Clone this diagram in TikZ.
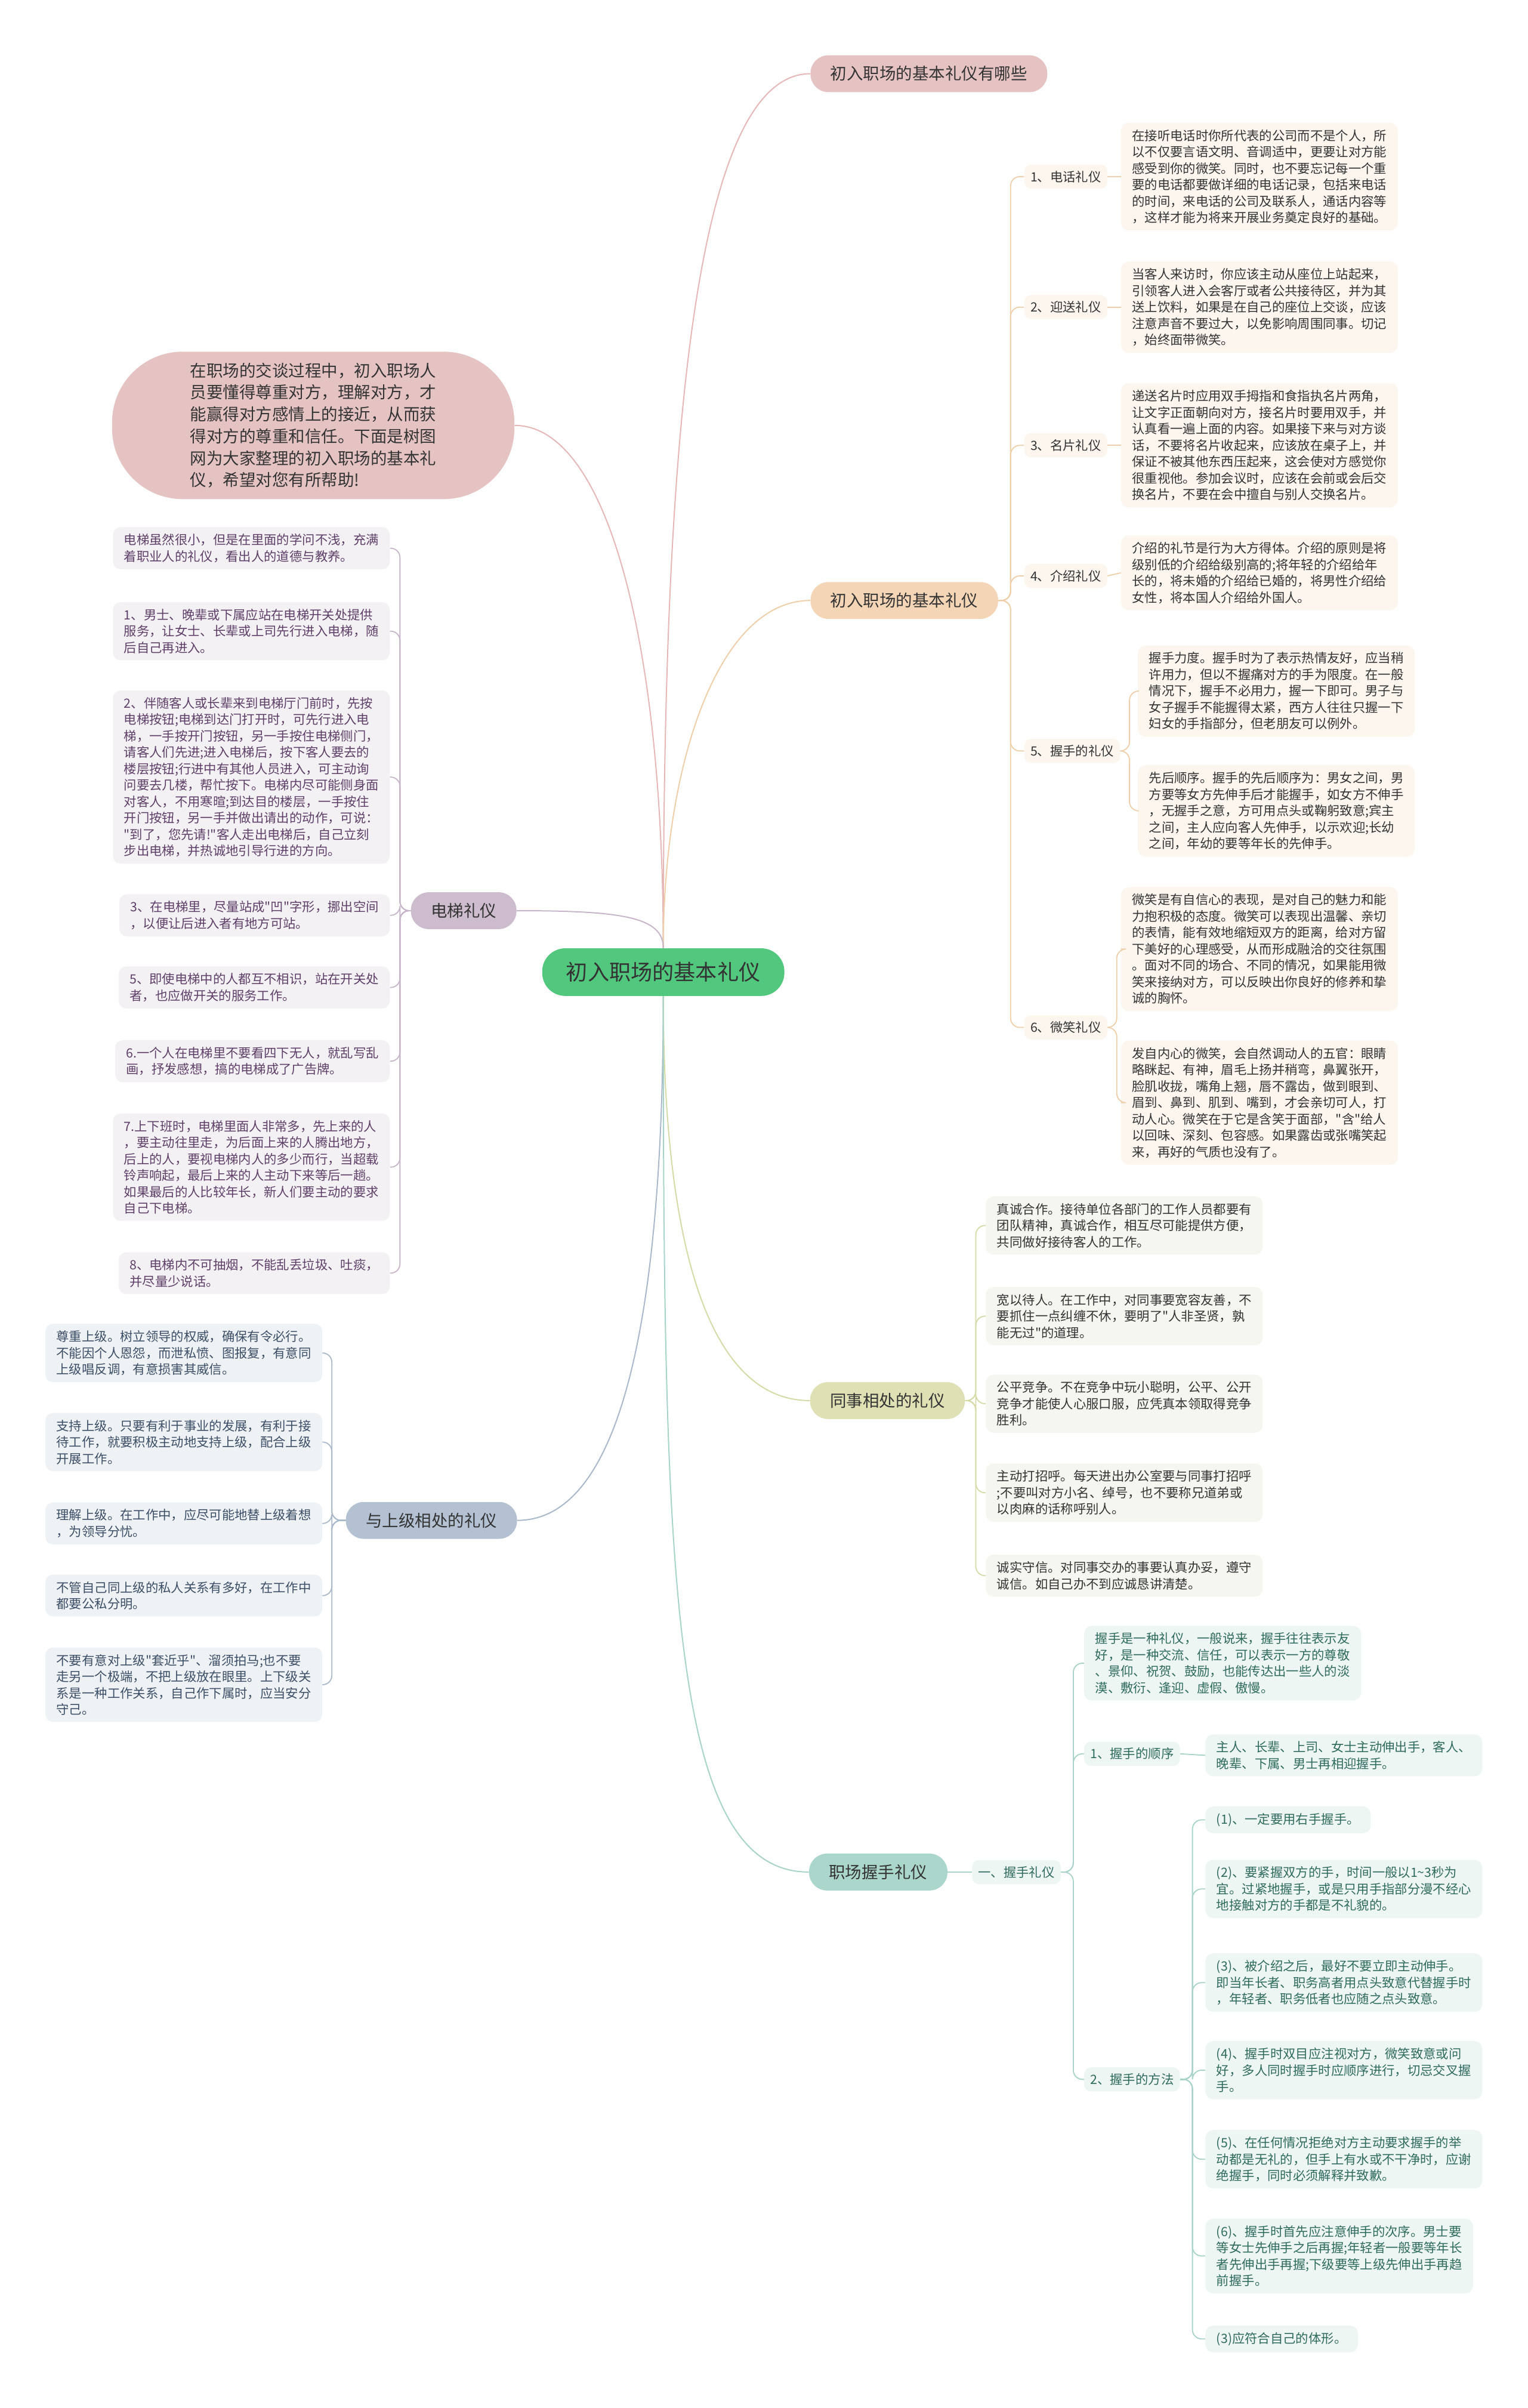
\documentclass[tikz,border=0pt]{standalone}
\usepackage{fontspec}
\setmainfont{Noto Sans CJK SC}[Ligatures=TeXOff]
\usepackage{xcolor}
\usetikzlibrary{positioning}
\definecolor{rootgreen}{HTML}{52C77E}
\definecolor{pinkfill}{HTML}{E6C3C3}
\definecolor{pinkline}{HTML}{E5B7B7}
\definecolor{tanfill}{HTML}{F4D6B6}
\definecolor{tanline}{HTML}{EFCFA9}
\definecolor{tannote}{HTML}{FCF6EF}
\definecolor{lilacfill}{HTML}{CCBCCD}
\definecolor{lilacline}{HTML}{C7B6CA}
\definecolor{lilacnote}{HTML}{F3F1F4}
\definecolor{lilactext}{HTML}{5E3F68}
\definecolor{slatefill}{HTML}{B3C1D2}
\definecolor{slateline}{HTML}{A9B8CA}
\definecolor{slatenote}{HTML}{EFF2F5}
\definecolor{slatetext}{HTML}{3C4E66}
\definecolor{olivefill}{HTML}{DFE1B5}
\definecolor{oliveline}{HTML}{D6DAA6}
\definecolor{olivenote}{HTML}{F6F6F0}
\definecolor{tealfill}{HTML}{AAD6CB}
\definecolor{tealline}{HTML}{A7D3C8}
\definecolor{tealnote}{HTML}{EEF6F4}
\definecolor{tealtext}{HTML}{2F6B5D}
\definecolor{inktext}{HTML}{333333}

\begin{document}
\begin{tikzpicture}[x=0.05cm,y=-0.05cm,
    root/.style={fill=rootgreen,text=inktext,rounded corners=0.75cm,minimum height=1.55cm,
                 inner xsep=0.78cm,font=\fontsize{20}{24}\selectfont},
    branch/.style={text=inktext,rounded corners=0.58cm,minimum height=1.2cm,inner xsep=0.65cm,
                   font=\fontsize{15.2}{18}\selectfont},
    note/.style={rounded corners=0.25cm,align=left,inner xsep=0.36cm,inner ysep=0.22cm,
                 font=\fontsize{11.8}{15.2}\selectfont},
    tag/.style={rounded corners=0.22cm,inner xsep=0.2cm,inner ysep=0.2cm,
                font=\fontsize{11.8}{15.2}\selectfont},
    tannote/.style={note,fill=tannote,text=inktext},
    lilacnote/.style={note,fill=lilacnote,text=lilactext},
    slatenote/.style={note,fill=slatenote,text=slatetext},
    olivenote/.style={note,fill=olivenote,text=inktext},
    tealnote/.style={note,fill=tealnote,text=tealtext},
    link/.style={line width=1.1pt},
    fork/.style={line width=1pt,rounded corners=0.3cm}]
  \fill[white] (0,0) rectangle (995,1568);
  \useasboundingbox (0,0) rectangle (995,1568);

  \node[root] (root) at (432,633) {初入职场的基本礼仪};
  \node[fill=pinkfill,text=inktext,rounded corners=2.3cm,minimum width=13.1cm,minimum height=4.8cm,
        align=left,font=\fontsize{15.2}{20.3}\selectfont] (intro) at (204,277)
    {在职场的交谈过程中，初入职场人\\员要懂得尊重对方，理解对方，才\\能赢得对方感情上的接近，从而获\\得对方的尊重和信任。下面是树图\\网为大家整理的初入职场的基本礼\\仪，希望对您有所帮助!};

  \node[branch,fill=pinkfill] (b1) at (605,48) {初入职场的基本礼仪有哪些};
  \node[branch,fill=tanfill] (b2) at (589,391) {初入职场的基本礼仪};
  \node[branch,fill=lilacfill] (b3) at (302,593) {电梯礼仪};
  \node[branch,fill=slatefill] (b4) at (281,990) {与上级相处的礼仪};
  \node[branch,fill=olivefill] (b5) at (578,912) {同事相处的礼仪};
  \node[branch,fill=tealfill] (b6) at (572,1219) {职场握手礼仪};

  \draw[link,pinkline] (root.north) .. controls +(0,-300) and +(-80,0) .. (b1.west);
  \draw[link,pinkline] (root.north) .. controls +(0,-200) and +(60,0) .. (intro.east);
  \draw[link,tanline] (root.north) .. controls +(0,-120) and +(-60,0) .. (b2.west);
  \draw[link,lilacline] (root.north) .. controls +(0,-20) and +(70,0) .. (b3.east);
  \draw[link,slateline] (root.south) .. controls +(0,200) and +(70,0) .. (b4.east);
  \draw[link,oliveline] (root.south) .. controls +(0,150) and +(-70,0) .. (b5.west);
  \draw[link,tealline] (root.south) .. controls +(0,380) and +(-90,0) .. (b6.west);

  % 基本礼仪
  \node[tag,fill=tannote,text=inktext,anchor=west] (o1) at (667,115) {1、电话礼仪};
  \node[tag,fill=tannote,text=inktext,anchor=west] (o2) at (667,200) {2、迎送礼仪};
  \node[tag,fill=tannote,text=inktext,anchor=west] (o3) at (667,290) {3、名片礼仪};
  \node[tag,fill=tannote,text=inktext,anchor=west] (o4) at (667,375) {4、介绍礼仪};
  \node[tag,fill=tannote,text=inktext,anchor=west] (o5) at (667,489) {5、握手的礼仪};
  \node[tag,fill=tannote,text=inktext,anchor=west] (o6) at (667,669) {6、微笑礼仪};
  \node[tannote,anchor=west] (d1) at (730,115)
    {在接听电话时你所代表的公司而不是个人，所\\以不仅要言语文明、音调适中，更要让对方能\\感受到你的微笑。同时，也不要忘记每一个重\\要的电话都要做详细的电话记录，包括来电话\\的时间，来电话的公司及联系人，通话内容等\\，这样才能为将来开展业务奠定良好的基础。};
  \node[tannote,anchor=west] (d2) at (730,200)
    {当客人来访时，你应该主动从座位上站起来，\\引领客人进入会客厅或者公共接待区，并为其\\送上饮料，如果是在自己的座位上交谈，应该\\注意声音不要过大，以免影响周围同事。切记\\，始终面带微笑。};
  \node[tannote,anchor=west] (d3) at (730,290)
    {递送名片时应用双手拇指和食指执名片两角，\\让文字正面朝向对方，接名片时要用双手，并\\认真看一遍上面的内容。如果接下来与对方谈\\话，不要将名片收起来，应该放在桌子上，并\\保证不被其他东西压起来，这会使对方感觉你\\很重视他。参加会议时，应该在会前或会后交\\换名片，不要在会中擅自与别人交换名片。};
  \node[tannote,anchor=west] (d4) at (730,373)
    {介绍的礼节是行为大方得体。介绍的原则是将\\级别低的介绍给级别高的;将年轻的介绍给年\\长的，将未婚的介绍给已婚的，将男性介绍给\\女性，将本国人介绍给外国人。};
  \node[tannote,anchor=west] (d5a) at (741,450)
    {握手力度。握手时为了表示热情友好，应当稍\\许用力，但以不握痛对方的手为限度。在一般\\情况下，握手不必用力，握一下即可。男子与\\女子握手不能握得太紧，西方人往往只握一下\\妇女的手指部分，但老朋友可以例外。};
  \node[tannote,anchor=west] (d5b) at (741,528)
    {先后顺序。握手的先后顺序为：男女之间，男\\方要等女方先伸手后才能握手，如女方不伸手\\，无握手之意，方可用点头或鞠躬致意;宾主\\之间，主人应向客人先伸手，以示欢迎;长幼\\之间，年幼的要等年长的先伸手。};
  \node[tannote,anchor=west] (d6a) at (730,618)
    {微笑是有自信心的表现，是对自己的魅力和能\\力抱积极的态度。微笑可以表现出温馨、亲切\\的表情，能有效地缩短双方的距离，给对方留\\下美好的心理感受，从而形成融洽的交往氛围\\。面对不同的场合、不同的情况，如果能用微\\笑来接纳对方，可以反映出你良好的修养和挚\\诚的胸怀。};
  \node[tannote,anchor=west] (d6b) at (730,718)
    {发自内心的微笑，会自然调动人的五官：眼睛\\略眯起、有神，眉毛上扬并稍弯，鼻翼张开，\\脸肌收拢，嘴角上翘，唇不露齿，做到眼到、\\眉到、鼻到、肌到、嘴到，才会亲切可人，打\\动人心。微笑在于它是含笑于面部，"含"给人\\以回味、深刻、包容感。如果露齿或张嘴笑起\\来，再好的气质也没有了。};
  \foreach \n in {o1,o2,o3,o4,o5,o6}
    \draw[fork,tanline] (b2.east) -- ++(8,0) |- (\n.west);
  \foreach \n in {1,2,3,4}
    \draw[fork,tanline] (o\n.east) -- (d\n.west);
  \foreach \n in {d5a,d5b}
    \draw[fork,tanline] (o5.east) -- ++(6,0) |- (\n.west);
  \foreach \n in {d6a,d6b}
    \draw[fork,tanline] (o6.east) -- ++(6,0) |- (\n.west);

  % 电梯礼仪
  \node[lilacnote,anchor=east] (e0) at (254,357)
    {电梯虽然很小，但是在里面的学问不浅，充满\\着职业人的礼仪，看出人的道德与教养。};
  \node[lilacnote,anchor=east] (e1) at (254,411)
    {1、男士、晚辈或下属应站在电梯开关处提供\\服务，让女士、长辈或上司先行进入电梯，随\\后自己再进入。};
  \node[lilacnote,anchor=east] (e2) at (254,506)
    {2、伴随客人或长辈来到电梯厅门前时，先按\\电梯按钮;电梯到达门打开时，可先行进入电\\梯，一手按开门按钮，另一手按住电梯侧门，\\请客人们先进;进入电梯后，按下客人要去的\\楼层按钮;行进中有其他人员进入，可主动询\\问要去几楼，帮忙按下。电梯内尽可能侧身面\\对客人，不用寒暄;到达目的楼层，一手按住\\开门按钮，另一手并做出请出的动作，可说：\\"到了，您先请!"客人走出电梯后，自己立刻\\步出电梯，并热诚地引导行进的方向。};
  \node[lilacnote,anchor=east] (e3) at (254,596)
    {3、在电梯里，尽量站成"凹"字形，挪出空间\\，以便让后进入者有地方可站。};
  \node[lilacnote,anchor=east] (e5) at (254,643)
    {5、即使电梯中的人都互不相识，站在开关处\\者，也应做开关的服务工作。};
  \node[lilacnote,anchor=east] (e6) at (254,691)
    {6.一个人在电梯里不要看四下无人，就乱写乱\\画，抒发感想，搞的电梯成了广告牌。};
  \node[lilacnote,anchor=east] (e7) at (254,760)
    {7.上下班时，电梯里面人非常多，先上来的人\\，要主动往里走，为后面上来的人腾出地方，\\后上的人，要视电梯内人的多少而行，当超载\\铃声响起，最后上来的人主动下来等后一趟。\\如果最后的人比较年长，新人们要主动的要求\\自己下电梯。};
  \node[lilacnote,anchor=east] (e8) at (254,829)
    {8、电梯内不可抽烟，不能乱丢垃圾、吐痰，\\并尽量少说话。};
  \foreach \n in {e0,e1,e2,e3,e5,e6,e7,e8}
    \draw[fork,lilacline] (b3.west) -- ++(-7,0) |- (\n.east);

  % 上级
  \node[slatenote,anchor=east] (s1) at (210,881)
    {尊重上级。树立领导的权威，确保有令必行。\\不能因个人恩怨，而泄私愤、图报复，有意同\\上级唱反调，有意损害其威信。};
  \node[slatenote,anchor=east] (s2) at (210,939)
    {支持上级。只要有利于事业的发展，有利于接\\待工作，就要积极主动地支持上级，配合上级\\开展工作。};
  \node[slatenote,anchor=east] (s3) at (210,992)
    {理解上级。在工作中，应尽可能地替上级着想\\，为领导分忧。};
  \node[slatenote,anchor=east] (s4) at (210,1039)
    {不管自己同上级的私人关系有多好，在工作中\\都要公私分明。};
  \node[slatenote,anchor=east] (s5) at (210,1097)
    {不要有意对上级"套近乎"、溜须拍马;也不要\\走另一个极端，不把上级放在眼里。上下级关\\系是一种工作关系，自己作下属时，应当安分\\守己。};
  \foreach \n in {s1,s2,s3,s4,s5}
    \draw[fork,slateline] (b4.west) -- ++(-9,0) |- (\n.east);

  % 同事
  \node[olivenote,anchor=west] (c1) at (642,798)
    {真诚合作。接待单位各部门的工作人员都要有\\团队精神，真诚合作，相互尽可能提供方便，\\共同做好接待客人的工作。};
  \node[olivenote,anchor=west] (c2) at (642,857)
    {宽以待人。在工作中，对同事要宽容友善，不\\要抓住一点纠缠不休，要明了"人非圣贤，孰\\能无过"的道理。};
  \node[olivenote,anchor=west] (c3) at (642,914)
    {公平竞争。不在竞争中玩小聪明，公平、公开\\竞争才能使人心服口服，应凭真本领取得竞争\\胜利。};
  \node[olivenote,anchor=west] (c4) at (642,972)
    {主动打招呼。每天进出办公室要与同事打招呼\\;不要叫对方小名、绰号，也不要称兄道弟或\\以肉麻的话称呼别人。};
  \node[olivenote,anchor=west] (c5) at (642,1026)
    {诚实守信。对同事交办的事要认真办妥，遵守\\诚信。如自己办不到应诚恳讲清楚。};
  \foreach \n in {c1,c2,c3,c4,c5}
    \draw[fork,oliveline] (b5.east) -- ++(7,0) |- (\n.west);

  % 握手
  \node[tag,fill=tealnote,text=tealtext,anchor=west] (k0) at (633,1219) {一、握手礼仪};
  \node[tealnote,anchor=west] (h0) at (706,1083)
    {握手是一种礼仪，一般说来，握手往往表示友\\好，是一种交流、信任，可以表示一方的尊敬\\、景仰、祝贺、鼓励，也能传达出一些人的淡\\漠、敷衍、逢迎、虚假、傲慢。};
  \node[tag,fill=tealnote,text=tealtext,anchor=west] (h1) at (706,1142) {1、握手的顺序};
  \node[tag,fill=tealnote,text=tealtext,anchor=west] (h2) at (706,1354) {2、握手的方法};
  \node[tealnote,anchor=west] (n1) at (785,1143)
    {主人、长辈、上司、女士主动伸出手，客人、\\晚辈、下属、男士再相迎握手。};
  \node[tealnote,anchor=west] (m1) at (785,1185) {(1)、一定要用右手握手。};
  \node[tealnote,anchor=west] (m2) at (785,1230)
    {(2)、要紧握双方的手，时间一般以1\textasciitilde 3秒为\\宜。过紧地握手，或是只用手指部分漫不经心\\地接触对方的手都是不礼貌的。};
  \node[tealnote,anchor=west] (m3) at (785,1291)
    {(3)、被介绍之后，最好不要立即主动伸手。\\即当年长者、职务高者用点头致意代替握手时\\，年轻者、职务低者也应随之点头致意。};
  \node[tealnote,anchor=west] (m4) at (785,1348)
    {(4)、握手时双目应注视对方，微笑致意或问\\好，多人同时握手时应顺序进行，切忌交叉握\\手。};
  \node[tealnote,anchor=west] (m5) at (785,1406)
    {(5)、在任何情况拒绝对方主动要求握手的举\\动都是无礼的，但手上有水或不干净时，应谢\\绝握手，同时必须解释并致歉。};
  \node[tealnote,anchor=west] (m6) at (785,1469)
    {(6)、握手时首先应注意伸手的次序。男士要\\等女士先伸手之后再握;年轻者一般要等年长\\者先伸出手再握;下级要等上级先伸出手再趋\\前握手。};
  \node[tealnote,anchor=west] (m7) at (785,1523) {(3)应符合自己的体形。};
  \draw[link,tealline] (b6.east) -- (k0.west);
  \foreach \n in {h0,h1,h2}
    \draw[fork,tealline] (k0.east) -- ++(8,0) |- (\n.west);
  \draw[fork,tealline] (h1.east) -- (n1.west);
  \foreach \n in {m1,m2,m3,m4,m5,m6,m7}
    \draw[fork,tealline] (h2.east) -- ++(8,0) |- (\n.west);
\end{tikzpicture}
\end{document}
